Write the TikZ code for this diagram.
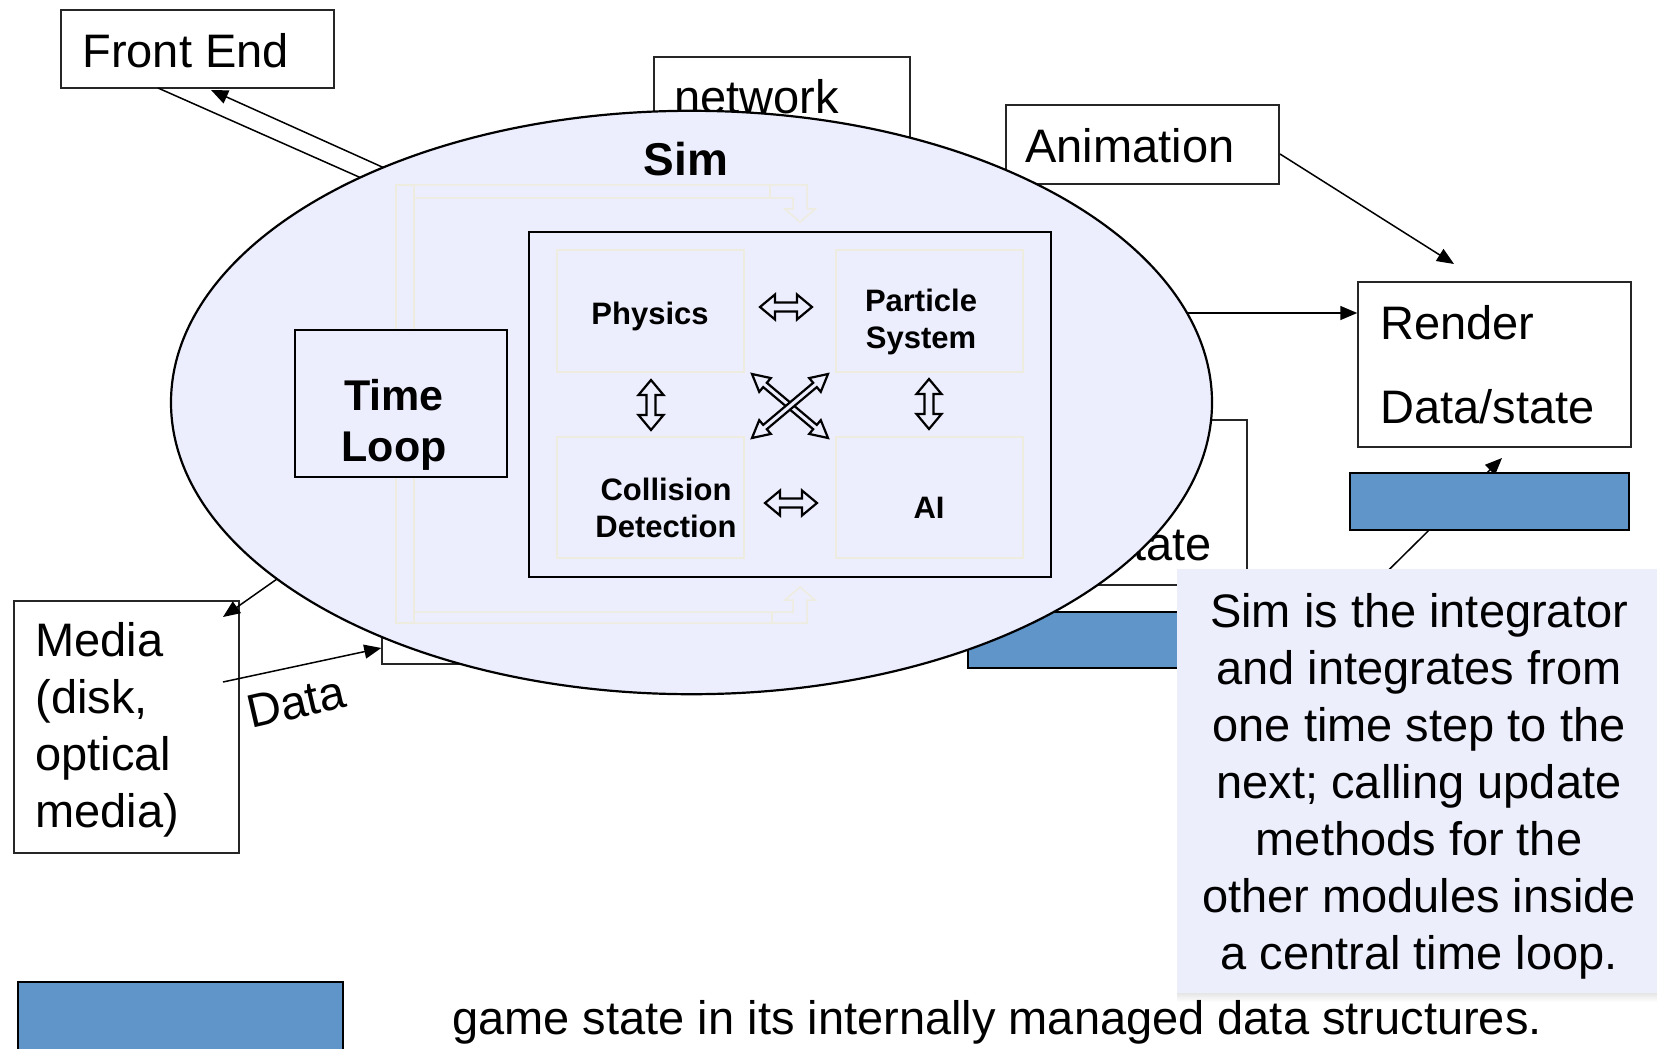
\documentclass[tikz,border=0pt]{standalone}
\usepackage{fontspec}
\setmainfont{Liberation Sans}
\usetikzlibrary{arrows.meta,fit,shapes.geometric}

\definecolor{simfill}{RGB}{237,238,253}
\definecolor{notefill}{RGB}{237,238,252}
\definecolor{bluebox}{RGB}{96,149,201}
\definecolor{faintline}{RGB}{238,236,222}

% hollow double-headed block arrow: x1 y1 x2 y2 shaft-half head-half head-length
\newcommand\hollowarrow[7]{%
  \pgfmathsetmacro\hwAng{atan2(-(#4-#2),(#3-#1))}%
  \pgfmathsetmacro\hwLen{veclen((#3-#1),(#4-#2))}%
  \pgfmathsetmacro\hwBase{\hwLen-#7}%
  \begin{scope}[shift={(#1,#2)},rotate=\hwAng]
    \draw[hollowline] (0,0) -- (#7,#6) -- (#7,#5) -- (\hwBase,#5) -- (\hwBase,#6)
      -- (\hwLen,0) -- (\hwBase,-#6) -- (\hwBase,-#5) -- (#7,-#5) -- (#7,-#6) -- cycle;
  \end{scope}}

\begin{document}
\begin{tikzpicture}[x=0.5pt,y=-0.5pt,
  box/.style={draw=black!85, line width=0.75pt, fill=white, inner sep=0pt},
  bluebar/.style={draw=black, line width=1pt, fill=bluebox, inner sep=0pt},
  txt/.style={inner sep=0pt, font=\fontsize{23.5pt}{28.5pt}\selectfont},
  modtxt/.style={inner sep=0pt, align=center, font=\bfseries\fontsize{15.5pt}{18.5pt}\selectfont},
  faintbox/.style={draw=faintline, line width=0.75pt, inner sep=0pt},
  conn/.style={draw=black, line width=0.75pt},
  arr/.style={conn, -{Triangle[length=8.5pt,width=7pt]}},
  hollowline/.style={draw=black, line width=1.1pt, fill=simfill, line join=miter},
]
\useasboundingbox (0,0) rectangle (1657,1048);
\fill[white] (0,0) rectangle (1657,1048);

% ---------- modules around the simulation ----------
\node[box, fit={(61,10) (334,88)}] (front) {};
\node[txt, anchor=base west] (front-t) at (82,68) {Front End};

\node[box, fit={(654,57) (910,220)}] (net) {};
\node[txt, anchor=base west] (net-t) at (674,114) {network};

\node[box, fit={(1006,105) (1279,184)}] (anim) {};
\node[txt, anchor=base west] (anim-t) at (1025,163) {Animation};

\node[box, fit={(1000,420) (1247,585)}] (state) {};
\node[txt, anchor=base east] (state-t) at (1212,560) {state};

\node[bluebar, fit={(968,612) (1270,668)}] (midbar) {};
\node[box, line width=0.75pt, fit={(382,560) (600,664)}] (datain) {};

% connectors that start inside the Sim ellipse
\coordinate (fe-in)  at (158,88);
\coordinate (fe-out) at (211,90);
\coordinate (sim-fe1) at (560,266);
\coordinate (sim-fe2) at (580,256);
\draw[conn] (fe-in) -- (sim-fe1);
\draw[arr] (sim-fe2) -- (fe-out);

\coordinate (sim-r) at (1150,313);
\node[box, fit={(1358,282) (1631,447)}] (render) {};
\draw[arr] (sim-r) -- (render.west |- sim-r);

% ---------- media box (its incoming arrow is drawn over it) ----------
\node[box, fit={(14,601) (239,853)}] (media) {};
\node[txt, align=left, anchor=base west, font=\fontsize{23.5pt}{28.35pt}\selectfont]
  (media-t) at (35,827) {Media\\(disk,\\optical\\media)};

\coordinate (sim-m) at (331,541);
\coordinate (media-in) at (223,617);
\draw[arr] (sim-m) -- (media-in);

% ---------- Sim ----------
\node[ellipse, draw=black, line width=1.1pt, fill=simfill, inner sep=0pt,
      minimum width=520.5pt, minimum height=291.7pt] (sim) at (691.5,402.5) {};
\node[inner sep=0pt, font=\bfseries\fontsize{23pt}{27pt}\selectfont, anchor=base]
  (sim-t) at (686,176) {Sim};

% time loop band
\draw[faintline, line width=0.75pt] (396,185) rectangle (414,623);
\draw[faintline, line width=0.75pt] (414,185) -- (807,185) -- (807,209) -- (815,209)
  -- (800,222) -- (785,209) -- (793,209) -- (793,198) -- (414,198);
\draw[faintline, line width=0.75pt] (770,185) -- (770,198);
\draw[faintline, line width=0.75pt] (414,623) -- (807,623) -- (807,600) -- (815,600)
  -- (800,587) -- (785,600) -- (793,600) -- (793,612) -- (414,612);
\draw[faintline, line width=0.75pt] (772,612) -- (772,623);

\node[draw=black, line width=1pt, fill=simfill, inner sep=0pt, fit={(295,330) (507,477)}] (loop) {};
\node[inner sep=0pt, align=center, anchor=base, font=\bfseries\fontsize{21.5pt}{25.5pt}\selectfont]
  (loop-t) at (394,461) {Time\\Loop};

\node[draw=black, line width=1.25pt, inner sep=0pt, fit={(529,232) (1051,577)}] (core) {};
\node[faintbox, fit={(557,250) (744,372)}] (phys) {};
\node[faintbox, fit={(836,250) (1023,372)}] (part) {};
\node[faintbox, fit={(557,437) (744,558)}] (coll) {};
\node[faintbox, fit={(836,437) (1023,558)}] (ai) {};

\node[modtxt, anchor=base] (phys-t) at (650,324) {Physics};
\node[modtxt, anchor=base] (part-t) at (921,348) {Particle\\System};
\node[modtxt, anchor=base] (coll-t) at (666,537) {Collision\\Detection};
\node[modtxt, anchor=base] (ai-t) at (929,518) {AI};

\hollowarrow{760}{307}{812}{307}{4.5}{12.5}{15}
\hollowarrow{765}{503}{817}{503}{4.5}{12.5}{15}
\hollowarrow{651}{380}{651}{430}{4.5}{12.5}{15}
\hollowarrow{929}{379}{929}{429}{4.5}{12.5}{15}
\hollowarrow{752}{374}{828}{438}{2.8}{9}{17}
\hollowarrow{752}{438}{828}{374}{2.8}{9}{17}

% ---------- render side ----------
\node[txt, anchor=base west, align=left, font=\fontsize{23.5pt}{42pt}\selectfont]
  (render-t) at (1380,423) {Render\\Data/state};

\coordinate (anim-out) at (1280,154);
\coordinate (render-top) at (1454,264);
\draw[arr] (anim-out) -- (render-top);

\coordinate (note-src) at (1330,628);
\coordinate (render-low) at (1502,458);
\draw[arr] (note-src) -- (render-low);
\node[bluebar, fit={(1350,473) (1629,530)}] (rbar) {};

% ---------- note ----------
\shade[top color=black!10, bottom color=white] (1177,993) rectangle (1657,1002);
\node[fill=notefill, inner sep=0pt, fit={(1177,569) (1657,993)}] (note) {};
\node[txt, align=center, anchor=base] (note-t) at (1419,969)
  {Sim is the integrator\\and integrates from\\one time step to the\\next; calling update\\methods for the\\other modules inside\\a central time loop.};

% ---------- bottom ----------
\node[bluebar, line width=1.4pt, fit={(18,982) (343,1070)}] (legend) {};
\node[txt, anchor=base west] (bottom-t) at (452,1034)
  {game state in its internally managed data structures.};

% ---------- data input ----------
\coordinate (media-out) at (223,682);
\draw[arr] (media-out) -- (datain.west |- 0,648);
\node[txt, rotate=13] (data-t) at (296,702) {Data};

\end{tikzpicture}
\end{document}
